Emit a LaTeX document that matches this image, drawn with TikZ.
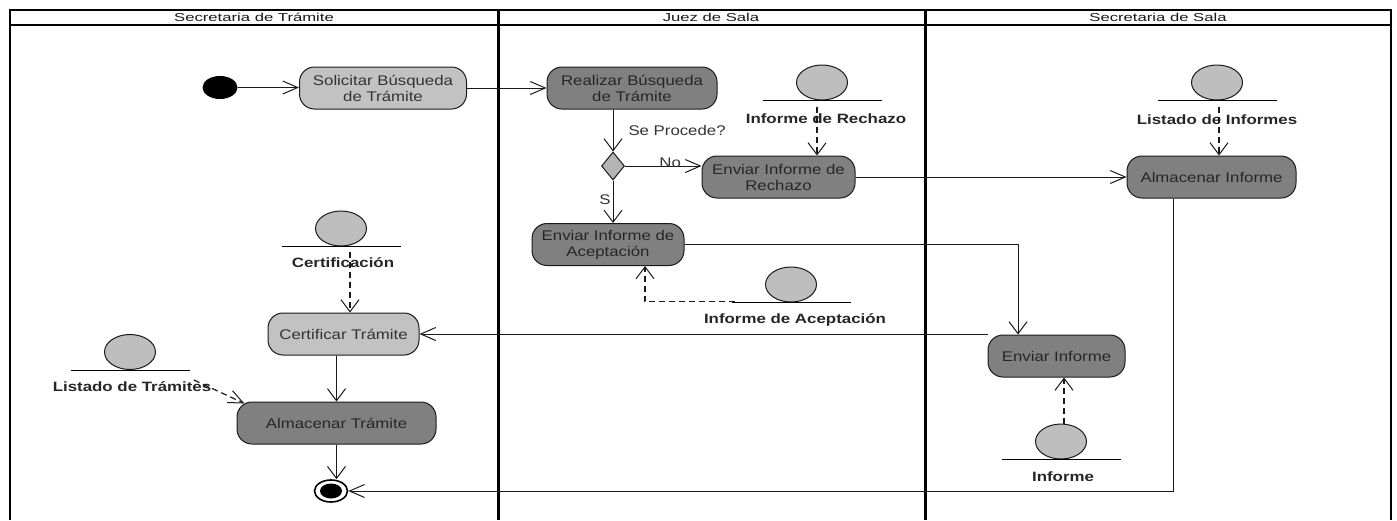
\documentclass[tikz,border=0pt]{standalone}
\usepackage{fontspec}
\setmainfont{Liberation Sans}
\newfontfamily\nodefont[FakeStretch=1.2]{Liberation Sans}
\newfontfamily\objfont[FakeStretch=1.25]{Liberation Sans}
\newfontfamily\headfont[FakeStretch=1.45]{Liberation Sans}
\usetikzlibrary{shapes.geometric,arrows.meta,calc}
\definecolor{actlight}{HTML}{C2C2C2}
\definecolor{actdark}{HTML}{808080}
\definecolor{objfill}{HTML}{BEBEBE}
\definecolor{diafill}{HTML}{B4B4B4}
\definecolor{txt}{HTML}{333333}
\definecolor{edgec}{HTML}{1A1A1A}
\begin{document}
\begin{tikzpicture}[x=1pt,y=-1pt,
  act/.style={draw=edgec, line width=1pt, rounded corners=15pt, minimum height=42pt, inner sep=0pt, align=center, text=txt, font=\nodefont\fontsize{14}{16}\selectfont},
  light/.style={act, fill=actlight},
  dark/.style={act, fill=actdark, text=black!85},
  obj/.style={ellipse, draw=edgec, line width=1pt, fill=objfill, minimum width=51pt, minimum height=35pt, inner sep=0pt},
  objline/.style={draw=black, line width=1pt},
  objlabel/.style={font=\objfont\bfseries\fontsize{13.5}{15}\selectfont, text=black!85, inner sep=0pt},
  lbl/.style={font=\nodefont\fontsize{14}{16}\selectfont, text=txt, inner sep=0pt},
  hd/.style={font=\headfont\fontsize{11.5}{13}\selectfont, text=black!90, inner sep=0pt},
  fh/.style={draw=edgec, line width=1pt, -{Straight Barb[length=15pt,width=13pt,line width=1pt]}},
  fv/.style={draw=edgec, line width=1pt, -{Straight Barb[length=12pt,width=18pt,line width=1pt]}},
  dh/.style={fh, line width=1.2pt, dash pattern=on 6pt off 4pt},
  dv/.style={fv, line width=1.2pt, dash pattern=on 6pt off 4pt},
  lane/.style={draw=black, line width=3pt},
  frame/.style={draw=black, line width=2pt}
]
\useasboundingbox (0,0) rectangle (1397,520);
\fill[white] (0,0) rectangle (1397,520);
% swimlanes
\draw[frame] (10,520) -- (10,9.5) -- (1391,9.5) -- (1391,520);
\draw[frame, line width=1.8pt] (10,25) -- (1391,25);
\draw[lane] (498.5,9.5) -- (498.5,520);
\draw[lane] (925,9.5) -- (925,520);
\node[hd] (h1) at (254,17.5) {Secretaria de Trámite};
\node[hd] (h2) at (711,17.5) {Juez de Sala};
\node[hd] (h3) at (1158,17.5) {Secretaria de Sala};
% activities
\node[light, minimum width=167pt] (sol) at (383,88) {Solicitar Búsqueda\\de Trámite};
\node[dark, minimum width=170pt] (real) at (632,88) {Realizar Búsqueda\\de Trámite};
\node[dark, minimum width=153pt] (rech) at (778.5,177) {Enviar Informe de\\Rechazo};
\node[dark, minimum width=152pt] (acep) at (608,244.5) {Enviar Informe de\\Aceptación};
\node[dark, minimum width=169pt] (alminf) at (1211.5,177) {Almacenar Informe};
\node[dark, minimum width=137pt] (envinf) at (1056.5,356) {Enviar Informe};
\node[light, minimum width=151pt] (cert) at (343.5,334) {Certificar Trámite};
\node[dark, minimum width=199pt] (almtra) at (336.5,423) {Almacenar Trámite};
% start, end, decision
\node[ellipse, fill=black, minimum width=35pt, minimum height=23pt, inner sep=0pt] (init) at (220,87.5) {};
\node[ellipse, draw=black, line width=1.6pt, fill=white, minimum width=33pt, minimum height=22pt, inner sep=0pt] (final) at (331,491) {};
\node[ellipse, fill=black, minimum width=22pt, minimum height=15pt, inner sep=0pt] (finalin) at (final) {};
\node[diamond, draw=edgec, line width=1pt, fill=diafill, minimum width=23pt, minimum height=28pt, inner sep=0pt] (dia) at (613,166) {};
% objects
\node[obj] (orech) at (822,82.5) {};
\draw[objline] ([xshift=-59.5pt]orech.south) -- ([xshift=59.5pt]orech.south);
\node[objlabel] (lrech) at (826,119) {Informe de Rechazo};
\node[obj] (olinf) at (1217,82.5) {};
\draw[objline] ([xshift=-59.5pt]olinf.south) -- ([xshift=59.5pt]olinf.south);
\node[objlabel] (llinf) at (1217,120) {Listado de Informes};
\node[obj] (oacep) at (791,284.5) {};
\draw[objline] ([xshift=-59.5pt]oacep.south) -- ([xshift=59.5pt]oacep.south);
\node[objlabel] (lacep) at (795,320) {Informe de Aceptación};
\node[obj] (ocert) at (341,228.5) {};
\draw[objline] ([xshift=-59.5pt]ocert.south) -- ([xshift=59.5pt]ocert.south);
\node[objlabel] (lcert) at (343,263) {Certificación};
\node[obj] (olt) at (130,352) {};
\draw[objline] ([xshift=-59.5pt]olt.south) -- ([xshift=59.5pt]olt.south);
\node[objlabel] (llt) at (132,387) {Listado de Trámites};
\node[obj] (oinfo) at (1061,441.5) {};
\draw[objline] ([xshift=-59.5pt]oinfo.south) -- ([xshift=59.5pt]oinfo.south);
\node[objlabel] (linfo) at (1063,477) {Informe};
% control flows
\draw[fh] (init.east) -- (init.east -| sol.west);
\draw[fh] (sol.east) -- (real.west);
\draw[fv] (dia.north |- real.south) -- (dia.north)
  node[lbl, pos=0.49, anchor=west, xshift=15pt] {Se Procede?};
\draw[fh] (dia.east) -- (dia.east -| rech.west)
  node[lbl, pos=0.59, yshift=3pt] {No};
\draw[fv] (dia.south) -- (dia.south |- acep.north)
  node[lbl, pos=0.44, anchor=east, xshift=-2pt] {S};
\draw[fh] (rech.east) -- (alminf.west);
\draw[fv] (acep.east) -| ([xshift=-38.5pt]envinf.north);
\draw[fh] (envinf.west |- cert.east) -- (cert.east);
\draw[fv] (almtra.north |- cert.south) -- (almtra.north);
\draw[fv] (almtra.south) -- (almtra.south |- final.north);
\draw[fh] ([xshift=-38.5pt]alminf.south) |- (final.east);
% object flows
\coordinate (drech) at ($(orech.south)+(-5,6)$);
\draw[dv] (drech) -- (drech |- rech.north);
\coordinate (dlinf) at ($(olinf.south)+(2,6)$);
\draw[dv] (dlinf) -- (dlinf |- alminf.north);
\coordinate (dacep) at ($(oacep.south)+(-56,-1)$);
\draw[dv] (dacep) -| ([xshift=37pt]acep.south);
\coordinate (dcert) at ($(ocert.south)+(9,5)$);
\draw[dv] (dcert) -- (dcert |- cert.north);
\coordinate (dlt) at ($(olt.south)+(64,10)$);
\draw[dh] (dlt) -- ($(almtra.north west)+(8,2)$);
\coordinate (dinfo) at ($(oinfo.north)+(3,0)$);
\draw[dv] (dinfo) -- (dinfo |- envinf.south);
\end{tikzpicture}
\end{document}
